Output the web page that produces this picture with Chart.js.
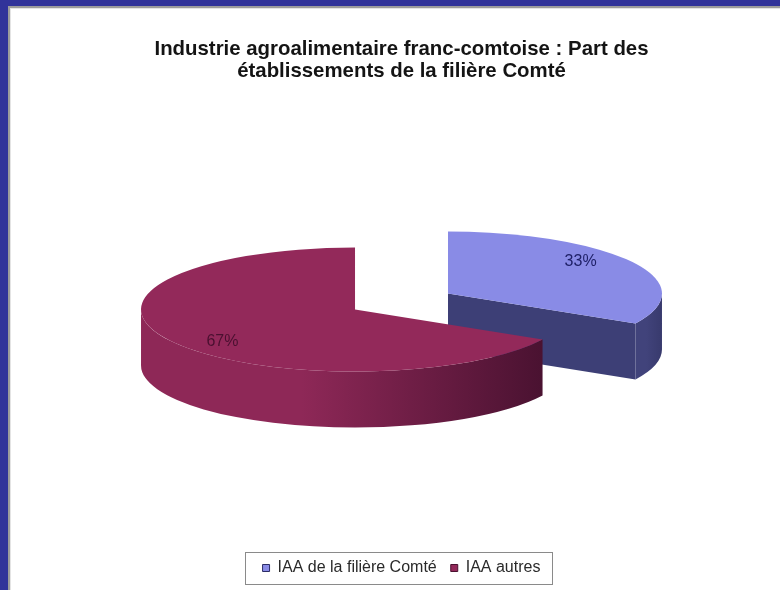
<!DOCTYPE html>
<html>
<head>
<meta charset="utf-8">
<script src="https://cdn.jsdelivr.net/npm/chart.js@4.4.1/dist/chart.umd.min.js"></script>
<style>
  html, body { margin: 0; padding: 0; background: #ffffff; }
  #wrap { position: relative; width: 780px; height: 590px; overflow: hidden; background: #ffffff; }
  #chart { position: absolute; left: 0; top: 0; }
  .bar { position: absolute; }
</style>
</head>
<body>
<div id="wrap">
  <canvas id="chart" width="780" height="590"></canvas>
  <div class="bar" style="left:0;top:0;width:780px;height:6px;background:#31339a;"></div>
  <div class="bar" style="left:0;top:0;width:8px;height:590px;background:#31339a;"></div>
  <div class="bar" style="left:8px;top:6px;width:772px;height:2px;background:#9c9c9c;"></div>
  <div class="bar" style="left:8px;top:6px;width:2px;height:584px;background:#9c9c9c;"></div>
  <div class="bar" style="left:10px;top:8px;width:770px;height:1px;background:#e4e4e4;"></div>
  <div class="bar" style="left:10px;top:8px;width:1px;height:582px;background:#e4e4e4;"></div>
</div>
<script>
// ---- data ----
const titleLines = ['Industrie agroalimentaire franc-comtoise : Part des', 'établissements de la filière Comté'];
const categories = ['IAA de la filière Comté', 'IAA autres'];
const shares = [33, 67];

// ---- style ----
const topColors   = ['#898be6', '#93295a'];
const wallLight   = ['#41437b', '#8e2857'];
const wallDark    = ['#383a6d', '#4a1231'];
const cutColors   = ['#3d3f76', '#5a1a3b'];
const labelColors = ['#1f2168', '#4a1030'];
const legendBorder = ['#2c2d66', '#4a1030'];
const TILT = 0.29;      // vertical squash of the pie
const DEPTH = 56;       // thickness in px
const EXPLODE = 54;     // explosion distance in px
const LABEL_X = 0.72;   // label horizontal distance (fraction of radius)
const LABEL_Y = 1.0;    // label vertical distance (fraction of squashed radius)
const FONT = "'Liberation Sans', Arial, Helvetica, sans-serif";

function frontRanges(a0, a1) {
  const out = [];
  for (let n = -2; n <= 2; n++) {
    const lo = Math.max(a0, 2 * Math.PI * n);
    const hi = Math.min(a1, 2 * Math.PI * n + Math.PI);
    if (hi > lo) out.push([lo, hi]);
  }
  return out;
}

const pie3d = {
  id: 'pie3d',
  beforeDatasetsDraw(chart) {
    const ctx = chart.ctx;
    const meta = chart.getDatasetMeta(0);
    const data = chart.data.datasets[0].data;
    const total = data.reduce((a, b) => a + b, 0);
    const geo = meta.data.map((el, i) => {
      const a0 = el.startAngle, a1 = el.endAngle, r = el.outerRadius;
      const m = (a0 + a1) / 2;
      return {
        i, a0, a1, m,
        cx: el.x + EXPLODE * Math.cos(m),
        cy: el.y - DEPTH / 2 + EXPLODE * TILT * Math.sin(m),
        rx: r, ry: r * TILT
      };
    });
    const order = geo.slice().sort((p, q) => Math.sin(p.m) - Math.sin(q.m));
    ctx.save();
    for (const g of order) {
      const {i, a0, a1, cx, cy, rx, ry} = g;
      // radial cut faces
      [[a0, a0 - Math.PI / 2], [a1, a1 + Math.PI / 2]].forEach(([a, n]) => {
        if (Math.sin(n) > 0.001) {
          const px = cx + rx * Math.cos(a), py = cy + ry * Math.sin(a);
          ctx.beginPath();
          ctx.moveTo(cx, cy);
          ctx.lineTo(px, py);
          ctx.lineTo(px, py + DEPTH);
          ctx.lineTo(cx, cy + DEPTH);
          ctx.closePath();
          ctx.fillStyle = cutColors[i];
          ctx.fill();
        }
      });
      // outer wall
      for (const [lo, hi] of frontRanges(a0, a1)) {
        const x1 = cx + rx * Math.cos(lo), x2 = cx + rx * Math.cos(hi);
        const gx0 = Math.min(x1, x2), gx1 = Math.max(x1, x2);
        const grad = ctx.createLinearGradient(gx0, 0, gx1, 0);
        grad.addColorStop(0, wallLight[i]);
        grad.addColorStop(0.4, wallLight[i]);
        grad.addColorStop(1, wallDark[i]);
        ctx.beginPath();
        ctx.ellipse(cx, cy, rx, ry, 0, lo, hi, false);
        ctx.lineTo(cx + rx * Math.cos(hi), cy + ry * Math.sin(hi) + DEPTH);
        ctx.ellipse(cx, cy + DEPTH, rx, ry, 0, hi, lo, true);
        ctx.closePath();
        ctx.fillStyle = grad;
        ctx.fill();
      }
      // top face
      ctx.beginPath();
      ctx.moveTo(cx, cy);
      ctx.ellipse(cx, cy, rx, ry, 0, a0, a1, false);
      ctx.closePath();
      ctx.fillStyle = topColors[i];
      ctx.fill();
    }
    // labels
    ctx.font = '16px ' + FONT;
    ctx.textAlign = 'center';
    ctx.textBaseline = 'middle';
    for (const g of geo) {
      const pct = Math.round(data[g.i] / total * 100) + '%';
      ctx.fillStyle = labelColors[g.i];
      ctx.fillText(pct,
        g.cx + LABEL_X * g.rx * Math.cos(g.m),
        g.cy + LABEL_Y * g.ry * Math.sin(g.m));
    }
    ctx.restore();
    return false;
  },
  afterDraw(chart) {
    const lg = chart.legend;
    if (!lg || !lg.legendHitBoxes || !lg.legendHitBoxes.length) return;
    const hb = lg.legendHitBoxes;
    const minX = Math.min(...hb.map(h => h.left));
    const maxX = Math.max(...hb.map(h => h.left + h.width));
    const minY = Math.min(...hb.map(h => h.top));
    const maxY = Math.max(...hb.map(h => h.top + h.height));
    const ctx = chart.ctx;
    ctx.save();
    ctx.strokeStyle = '#8a8a8a';
    ctx.lineWidth = 1;
    ctx.strokeRect(Math.round(minX - 18) + 0.5, Math.round(minY - 8) + 0.5,
                   Math.round(maxX - minX + 29), Math.round(maxY - minY + 16));
    ctx.restore();
  }
};

new Chart(document.getElementById('chart'), {
  type: 'pie',
  data: {
    labels: categories,
    datasets: [{
      data: shares,
      backgroundColor: topColors,
      borderColor: legendBorder,
      borderWidth: 1,
      radius: 214
    }]
  },
  options: {
    responsive: false,
    animation: false,
    events: [],
    layout: { padding: { left: 23, right: 0, top: 0, bottom: 4 } },
    plugins: {
      title: {
        display: true,
        text: titleLines,
        color: '#141414',
        font: { family: FONT, size: 20.4, weight: 'bold', lineHeight: 1.08 },
        padding: { top: 38, bottom: 31 }
      },
      legend: {
        display: true,
        position: 'bottom',
        labels: {
          boxWidth: 7,
          boxHeight: 7,
          padding: 14,
          color: '#2a2a2a',
          font: { family: FONT, size: 16 }
        }
      },
      tooltip: { enabled: false }
    }
  },
  plugins: [pie3d]
});
</script>
</body>
</html>
